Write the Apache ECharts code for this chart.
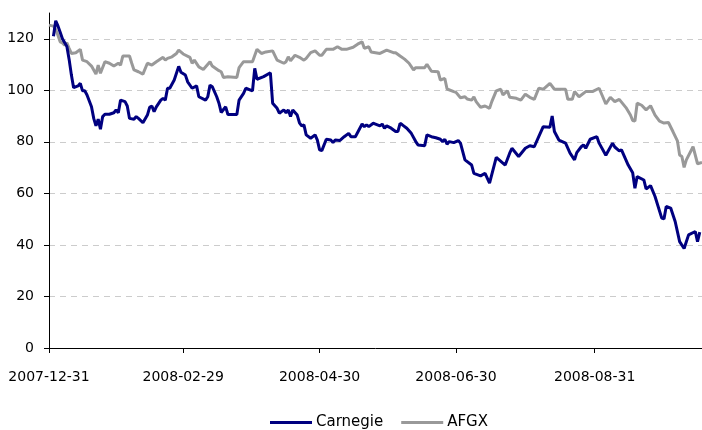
<!DOCTYPE html>
<html>
<head>
<meta charset="utf-8">
<script src="https://cdn.jsdelivr.net/npm/echarts@6/dist/echarts.min.js"></script>
<style>
  html, body { margin: 0; padding: 0; background: #fff; }
  #chart { width: 702px; height: 430px; }
</style>
</head>
<body>
<div id="chart"></div>
<script>
// x values are days counted from 2007-12-31
var tickDays = [0, 60, 121, 182, 244];
var tickLabels = ['2007-12-31', '2008-02-29', '2008-04-30', '2008-06-30', '2008-08-31'];
var yTicks = [0, 20, 40, 60, 80, 100, 120];

var carnegieDays = [2, 3, 4, 5, 6, 8, 9, 10, 11, 13, 14, 15, 16, 17, 19, 20, 21, 22, 23, 24,
  25, 27, 29, 30, 31, 32, 34, 35, 36, 38, 39, 40, 42, 44, 45, 46, 47, 48, 50, 51,
  52, 53, 54, 56, 58, 59, 61, 62, 64, 66, 67, 70, 71, 72, 73, 75, 76, 77, 79, 80,
  84, 85, 87, 88, 91, 92, 93, 96, 99, 100, 102, 103, 105, 106, 107, 108, 109, 111, 112, 113,
  114, 115, 117, 119, 120, 121, 122, 124, 126, 127, 128, 130, 132, 134, 135, 137, 139, 140, 141, 142,
  143, 145, 146, 148, 149, 150, 151, 153, 155, 156, 157, 158, 160, 162, 164, 165, 168, 169, 171, 173,
  175, 176, 177, 178, 179, 181, 183, 184, 186, 189, 190, 193, 195, 197, 200, 204, 206, 207, 210, 213,
  215, 217, 219, 221, 224, 225, 226, 228, 231, 233, 235, 236, 238, 239, 240, 242, 245, 246, 249, 252,
  253, 255, 256, 259, 261, 262, 263, 266, 267, 269, 271, 274, 275, 276, 278, 280, 282, 284, 286, 289,
  290, 291];
var carnegieValues = [121, 127, 125, 122.5, 120, 117, 112, 106, 101, 101.7, 102.7, 99.8, 99.8, 98.2, 93.6, 89.1, 86.2, 88.8, 84.9, 89.8,
  90.7, 90.7, 91.3, 92.4, 91.3, 96.2, 95.6, 93.9, 89.1, 88.8, 89.8, 89.1, 87.4, 90.4, 93.4, 93.9, 91.7, 93.6, 96.2, 96.9,
  96.2, 100.8, 100.8, 104, 109.3, 107, 105.9, 103.3, 100.8, 101.7, 97.5, 96.2, 97.5, 102, 101.4, 97.5, 95, 91.4, 93.6, 90.6,
  90.6, 96.2, 98.8, 100.8, 99.8, 108.5, 104.3, 105.3, 106.8, 95, 93, 91.1, 92.4, 91.3, 92.4, 89.8, 92.4, 90.4, 87.4, 86.2,
  86.6, 82.7, 81.4, 82.7, 80.7, 76.9, 76.6, 81, 80.7, 79.7, 80.7, 80.5, 82, 83.3, 82, 82, 85.3, 86.9, 85.9, 86.6,
  85.9, 87.2, 86.9, 86.2, 86.9, 85.3, 86.2, 85.3, 84, 84, 87.2, 86.6, 85.3, 83.3, 80.1, 78.8, 78.5, 82.7, 82, 81.6,
  81, 80.1, 81, 79.1, 80.1, 79.7, 80.5, 79.5, 73, 71, 67.8, 66.8, 67.8, 64, 74, 71, 75.6, 77.5, 74.3, 77.5,
  78.5, 78.1, 82, 85.9, 85.7, 90, 84, 80.7, 79.5, 75.6, 73, 75.8, 78.1, 78.8, 77.5, 81, 82, 79.5, 74.8, 79.5,
  78, 76.5, 76.9, 71, 68, 62, 66.5, 65.2, 61.7, 63, 58.8, 50.4, 50.1, 54.9, 54.3, 49.1, 41.3, 38.6, 43.9, 45.2,
  41.3, 45];

var afgxDays = [0, 2, 3, 4, 5, 6, 7, 8, 9, 10, 12, 14, 15, 17, 19, 21, 22, 23, 25, 27,
  29, 31, 32, 33, 36, 37, 38, 40, 42, 44, 46, 48, 51, 52, 53, 55, 57, 58, 60, 63,
  64, 65, 67, 69, 72, 73, 76, 77, 78, 80, 84, 85, 87, 91, 93, 95, 97, 100, 102, 105,
  106, 107, 108, 110, 112, 114, 115, 117, 119, 121, 122, 124, 127, 129, 131, 133, 136, 138, 140, 141,
  143, 144, 146, 148, 151, 154, 155, 157, 159, 161, 163, 164, 168, 169, 171, 174, 175, 177, 178, 181,
  182, 184, 186, 187, 189, 190, 191, 193, 195, 197, 198, 200, 202, 203, 205, 206, 209, 211, 213, 215,
  217, 219, 221, 224, 226, 231, 232, 234, 235, 237, 240, 243, 246, 249, 251, 253, 255, 258, 260, 261,
  262, 263, 265, 267, 269, 271, 273, 275, 277, 279, 281, 282, 283, 284, 285, 288, 290, 292];
var afgxValues = [125.3, 124.9, 123.6, 121.4, 118.8, 118.4, 117.5, 118.4, 116.3, 114.3, 114.6, 115.9, 111.7, 111.1, 109.4, 106.3, 109.8, 106.6, 111.1, 110.5,
  109.4, 110.5, 109.8, 113.3, 113.3, 110.5, 107.9, 107.2, 106.3, 110.5, 109.8, 111.1, 112.8, 111.7, 112.4, 113, 114.3, 115.6, 114.1, 112.8,
  110.5, 111.7, 109.1, 108.1, 111.1, 109.4, 107.6, 107.2, 105, 105.3, 105, 108.8, 111.1, 111.1, 115.9, 114.3, 114.9, 115.3, 111.7, 110.5,
  111.1, 113, 111.5, 113.6, 112.8, 111.7, 112.4, 114.6, 115.3, 113.6, 113.6, 115.9, 115.9, 116.9, 115.9, 115.9, 116.7, 117.9, 118.8, 116.3,
  116.9, 114.9, 114.6, 114.3, 115.6, 114.6, 114.6, 113.3, 112.1, 110.5, 107.9, 108.8, 108.8, 110.1, 107.4, 107.2, 104, 104.6, 100.5, 99.5,
  99.2, 97.1, 97.5, 96.6, 96.2, 97.5, 95.6, 93.4, 93.9, 93, 95.6, 99.8, 100.4, 98.2, 99.8, 97.3, 96.9, 96.2, 98.5, 97.3,
  96.5, 100.8, 100.4, 102.7, 100.4, 100.4, 96.5, 96.5, 99.5, 97.5, 99.5, 99.5, 100.8, 94.7, 97.3, 95.6, 96.5, 93.3, 90.4, 88.3,
  88.1, 95, 94.2, 92.4, 94, 90.4, 88, 87.3, 87.5, 84, 80.4, 74.9, 74.3, 70.1, 73, 78.1, 71.5, 72];

function pairs(xs, ys) {
  return xs.map(function (x, i) { return [x, ys[i]]; });
}

var chart = echarts.init(document.getElementById('chart'));

var font = 'DejaVu Sans';

var option = {
  animation: false,
  backgroundColor: '#fff',
  textStyle: { fontFamily: font },
  grid: { left: 49, right: 0, top: 13, bottom: 82 },
  legend: {
    left: 270,
    top: 415,
    padding: 0,
    itemGap: 18,
    itemWidth: 42,
    itemHeight: 3,
    icon: 'rect',
    textStyle: { fontFamily: font, fontSize: 15, color: '#000', padding: [0, 0, 0, -1] },
    data: ['Carnegie', 'AFGX']
  },
  xAxis: {
    type: 'value',
    min: 0,
    max: 292,
    axisLine: { show: true, onZero: false, lineStyle: { color: '#000', width: 1 } },
    axisTick: { show: true, length: 5, customValues: tickDays, lineStyle: { color: '#000' } },
    axisLabel: {
      customValues: tickDays,
      margin: 22,
      color: '#000',
      fontFamily: font,
      fontSize: 14,
      formatter: function (v) {
        var i = tickDays.indexOf(v);
        return i >= 0 ? tickLabels[i] : '';
      }
    },
    splitLine: { show: false }
  },
  yAxis: {
    type: 'value',
    min: 0,
    max: 130,
    axisLine: { show: true, lineStyle: { color: '#000', width: 1 } },
    axisTick: { show: true, length: 5, customValues: yTicks, lineStyle: { color: '#000' } },
    axisLabel: { customValues: yTicks, margin: 15, color: '#000', fontFamily: font, fontSize: 14 },
    splitLine: { show: true, lineStyle: { color: '#cccccc', type: [6, 5], width: 1 } }
  },
  series: [
    {
      name: 'AFGX',
      type: 'line',
      data: pairs(afgxDays, afgxValues),
      showSymbol: false,
      symbol: 'none',
      lineStyle: { color: '#999999', width: 3 },
      itemStyle: { color: '#999999' },
      z: 2
    },
    {
      name: 'Carnegie',
      type: 'line',
      data: pairs(carnegieDays, carnegieValues),
      showSymbol: false,
      symbol: 'none',
      lineStyle: { color: '#000080', width: 3 },
      itemStyle: { color: '#000080' },
      z: 3
    }
  ]
};

chart.setOption(option);
</script>
</body>
</html>
